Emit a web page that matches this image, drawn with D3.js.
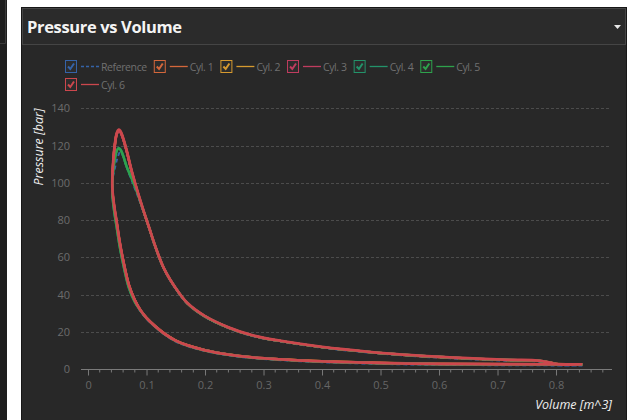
<!DOCTYPE html>
<html>
<head>
<meta charset="utf-8">
<script src="https://cdn.jsdelivr.net/npm/d3@7"></script>
<style>
  html, body { margin: 0; padding: 0; background: #fff; }
  svg { display: block; font-family: "Open Sans", "DejaVu Sans", sans-serif; }
</style>
</head>
<body>
<svg width="633" height="420"></svg>
<script>

/* Datos */

// volumen a lo largo del ciclo: compresion y luego expansion
let volume = [
  0.845, 0.80, 0.70, 0.60, 0.50, 0.40, 0.33, 0.28, 0.24, 0.20, 0.17, 0.15, 0.13, 0.115, 0.10, 0.09, 0.08, 0.07, 0.06, 0.054, 0.049, 0.045, 0.042,
  0.0415, 0.043, 0.046, 0.049, 0.052, 0.055, 0.059, 0.066, 0.075, 0.085, 0.095, 0.105, 0.115, 0.13, 0.15, 0.17, 0.20, 0.24, 0.28, 0.33, 0.40, 0.48, 0.56, 0.64, 0.72, 0.77, 0.79, 0.80, 0.845
]

let reference = [
  2.1, 2.1, 2.2, 2.4, 2.9, 3.8, 4.9, 6.0, 7.5, 9.8, 12.4, 14.9, 18.8, 22.6, 27.1, 31.0, 36.2, 43.8, 56.7, 66.3, 76.5, 84.6, 92.5,
  101, 104, 108, 112, 115, 116.5, 115, 108.5, 101, 93, 84.2, 75, 65.5, 53.6, 43.1, 35.1, 28.1, 22.1, 17.9, 14.8, 11.6, 9.0, 7.0, 5.6, 4.6, 4.2, 3.3, 2.3, 2.1
]

let cyl1 = [
  2.8, 2.8, 2.9, 3.0, 3.5, 4.3, 5.4, 6.5, 8.0, 10.3, 12.9, 15.4, 19.3, 23.1, 27.6, 31.6, 37.2, 45.2, 58.6, 68.4, 78.6, 86.5, 94.5,
  99.5, 110.5, 120.5, 126, 127.8, 127.4, 124.5, 117, 105.6, 94.7, 84.8, 75.3, 65.8, 53.9, 43.4, 35.4, 28.4, 22.4, 18.2, 15.1, 11.9, 9.3, 7.3, 5.9, 4.9, 4.5, 3.7, 3.0, 2.8
]

let cyl2 = [
  2.7, 2.7, 2.8, 2.9, 3.4, 4.3, 5.4, 6.5, 8.0, 10.3, 12.9, 15.4, 19.3, 23.1, 27.6, 31.6, 37.1, 45.1, 58.5, 68.5, 78.8, 86.8, 94.8,
  99.8, 110.8, 120.8, 126.3, 128.1, 127.7, 124.8, 117.3, 105.8, 94.8, 84.9, 75.4, 65.9, 53.9, 43.4, 35.4, 28.4, 22.4, 18.2, 15.1, 11.9, 9.3, 7.4, 6.0, 5.0, 4.6, 3.6, 2.9, 2.7
]

let cyl3 = [
  2.7, 2.7, 2.8, 2.9, 3.4, 4.2, 5.3, 6.4, 7.9, 10.2, 12.8, 15.3, 19.2, 23, 27.5, 31.5, 37, 45, 58.4, 68.3, 78.7, 86.7, 94.7,
  99.7, 110.6, 120.6, 126.1, 127.6, 127.3, 124.4, 117, 105.7, 94.8, 84.9, 75.4, 65.9, 53.9, 43.4, 35.4, 28.4, 22.4, 18.2, 15.1, 11.9, 9.3, 7.4, 6.0, 5.0, 4.6, 3.6, 2.9, 2.7
]

let cyl4 = [
  2.5, 2.5, 2.6, 2.7, 3.2, 4.1, 5.2, 6.3, 7.8, 10.1, 12.7, 15.2, 19.1, 22.9, 27.4, 31.3, 36.2, 43.6, 56.6, 66.2, 76.2, 84.2, 92.2,
  98.2, 106.2, 113.2, 117.2, 118.6, 118.1, 115.6, 108.8, 102.2, 94.1, 84.9, 75.4, 65.8, 53.9, 43.4, 35.4, 28.4, 22.4, 18.2, 15.1, 11.9, 9.3, 7.4, 6.0, 5.0, 4.6, 3.5, 2.7, 2.5
]

let cyl5 = [
  2.5, 2.5, 2.6, 2.7, 3.2, 4.1, 5.2, 6.3, 7.8, 10.1, 12.7, 15.2, 19.1, 22.9, 27.4, 31.4, 36, 43.5, 56.5, 66, 76, 84, 92,
  98, 106, 113, 117, 118.5, 118, 115.5, 108.7, 102, 94, 84.8, 75.4, 65.9, 53.9, 43.4, 35.4, 28.4, 22.4, 18.2, 15.1, 11.9, 9.3, 7.4, 6.0, 5.0, 4.6, 3.5, 2.7, 2.5
]

let cyl6 = [
  2.6, 2.6, 2.7, 2.8, 3.3, 4.2, 5.3, 6.4, 7.9, 10.2, 12.8, 15.3, 19.2, 23, 27.5, 31.5, 37, 45, 58.5, 68.5, 79, 87, 95,
  100, 111, 121, 126.5, 128.5, 128, 125, 117.5, 106, 95, 85, 75.5, 66, 54, 43.5, 35.5, 28.5, 22.5, 18.3, 15.2, 12, 9.4, 7.5, 6.1, 5.1, 4.7, 3.6, 2.8, 2.6
]

let names = ['Reference', 'Cyl. 1', 'Cyl. 2', 'Cyl. 3', 'Cyl. 4', 'Cyl. 5', 'Cyl. 6']
let colores = ['#3563a8', '#d4673b', '#d69a2f', '#c03c5f', '#23936a', '#2ea24c', '#cc474d']
let pressures = [reference, cyl1, cyl2, cyl3, cyl4, cyl5, cyl6]

let yTicks = [0, 20, 40, 60, 80, 100, 120, 140]
let xTicks = [0, 0.1, 0.2, 0.3, 0.4, 0.5, 0.6, 0.7, 0.8]



/* Marco */

let svg = d3.select('svg')

// tira de la izquierda
svg.append('rect').attr('x', 0).attr('y', 0).attr('width', 7).attr('height', 420).attr('fill', '#1e1e1e')
svg.append('path').attr('d', 'M5.5,0V43.5H0').attr('stroke', '#3a3a3a').attr('fill', 'none')

// panel
svg.append('rect').attr('x', 21.5).attr('y', 7.5).attr('width', 605).attr('height', 420)
  .attr('fill', '#282828').attr('stroke', '#171717')
svg.append('rect').attr('x', 22.5).attr('y', 8.5).attr('width', 603).attr('height', 36)
  .attr('fill', '#2b2b2b').attr('stroke', '#454545')

svg.append('text').text('Pressure vs Volume')
  .attr('x', 27).attr('y', 33)
  .attr('fill', '#f4f4f4').attr('font-size', 16.5).attr('font-weight', 'bold')
  .attr('letter-spacing', -0.35)

svg.append('path').attr('d', 'M614,25h7l-3.5,4z').attr('fill', '#e8e8e8')



/* Escalas */

let x = d3.scaleLinear().domain([-0.012, 0.8957]).range([81, 612])
let y = d3.scaleLinear().domain([0, 140]).range([369.3, 108.3])

let plot = svg.append('g')

// grilla
plot.selectAll('line.grid')
  .data(yTicks.filter(d => d > 0))
  .enter().append('line')
    .attr('class', 'grid')
    .attr('x1', 81).attr('x2', 611)
    .attr('y1', d => Math.round(y(d)) + 0.5).attr('y2', d => Math.round(y(d)) + 0.5)
    .attr('stroke', '#4c4c4c').attr('stroke-dasharray', '3,2')

// eje y (solo etiquetas)
plot.selectAll('text.ylbl')
  .data(yTicks)
  .enter().append('text')
    .attr('class', 'ylbl')
    .text(d => d)
    .attr('x', 70).attr('y', d => y(d) + 4)
    .attr('text-anchor', 'end')
    .attr('font-size', 11).attr('fill', '#6c6c6c')

// eje x
let xAxis = d3.axisBottom(x)
  .tickValues(xTicks)
  .tickFormat(d => d3.format('')(+d.toFixed(1)))
  .tickSize(6).tickSizeOuter(0)

let minor = d3.range(0, 45).map(i => i * 0.02).filter(v => Math.abs(v * 10 - Math.round(v * 10)) > 1e-6)

let gx = plot.append('g').attr('transform', 'translate(0,369.5)')
gx.call(xAxis)
gx.select('.domain').attr('d', 'M81,0H612').attr('stroke', '#7a7a7a')
gx.selectAll('.tick line').attr('stroke', '#7a7a7a')
gx.selectAll('.tick text').attr('fill', '#666').attr('font-size', 11).attr('dy', '0.95em')
  .attr('font-family', '"Open Sans", sans-serif')

gx.selectAll('line.minor')
  .data(minor)
  .enter().append('line')
    .attr('class', 'minor')
    .attr('x1', d => x(d)).attr('x2', d => x(d))
    .attr('y1', 0).attr('y2', 3)
    .attr('stroke', '#7a7a7a')

// titulos de ejes
svg.append('text').text('Pressure [bar]')
  .attr('transform', 'translate(43,147) rotate(-90)')
  .attr('text-anchor', 'middle')
  .attr('font-size', 12.5).attr('font-style', 'italic').attr('fill', '#eeeeee')

svg.append('text').text('Volume [m^3]')
  .attr('x', 612).attr('y', 409)
  .attr('text-anchor', 'end')
  .attr('font-size', 12.5).attr('font-style', 'italic').attr('fill', '#eeeeee')



/* Curvas */

let linea = d3.line()
  .x(d => x(d[0]))
  .y(d => y(d[1]))
  .curve(d3.curveCatmullRom.alpha(0.5))

let series = names.map((n, i) => ({
  nombre: n,
  color: colores[i],
  puntos: volume.map((v, j) => [v, pressures[i][j]])
}))

plot.selectAll('path.serie')
  .data(series)
  .enter().append('path')
    .attr('class', 'serie')
    .attr('d', d => linea(d.puntos))
    .attr('fill', 'none')
    .attr('stroke', d => d.color)
    .attr('stroke-width', (d, i) => i == 0 ? 2 : (i == 6 ? 2.8 : 2.4))
    .attr('stroke-dasharray', (d, i) => i == 0 ? '4,3' : null)
    .attr('stroke-linejoin', 'round')



/* Leyenda */

let leyenda = svg.append('g')
let lx = 65, ly = 60

series.forEach((s, i) => {
  if (i == 6) { lx = 65; ly = 78 }
  let item = leyenda.append('g').attr('transform', `translate(${lx},${ly})`)

  item.append('rect')
    .attr('x', 0.5).attr('y', 0.5).attr('width', 11).attr('height', 12)
    .attr('fill', '#2c2c2c').attr('stroke', s.color)
  item.append('path')
    .attr('d', 'M3,6.5L5.3,9L9,3.5')
    .attr('fill', 'none').attr('stroke', s.color).attr('stroke-width', 2)

  item.append('line')
    .attr('x1', 16).attr('x2', 34).attr('y1', 6.5).attr('y2', 6.5)
    .attr('stroke', s.color).attr('stroke-width', 1.3)
    .attr('stroke-dasharray', i == 0 ? '3,2' : null)

  let t = item.append('text').text(s.nombre)
    .attr('x', 36).attr('y', 10.5)
    .attr('font-size', 10.5).attr('letter-spacing', -0.4).attr('fill', '#707070')

  lx += 36 + t.node().getComputedTextLength() + 7
})

</script>
</body>
</html>
